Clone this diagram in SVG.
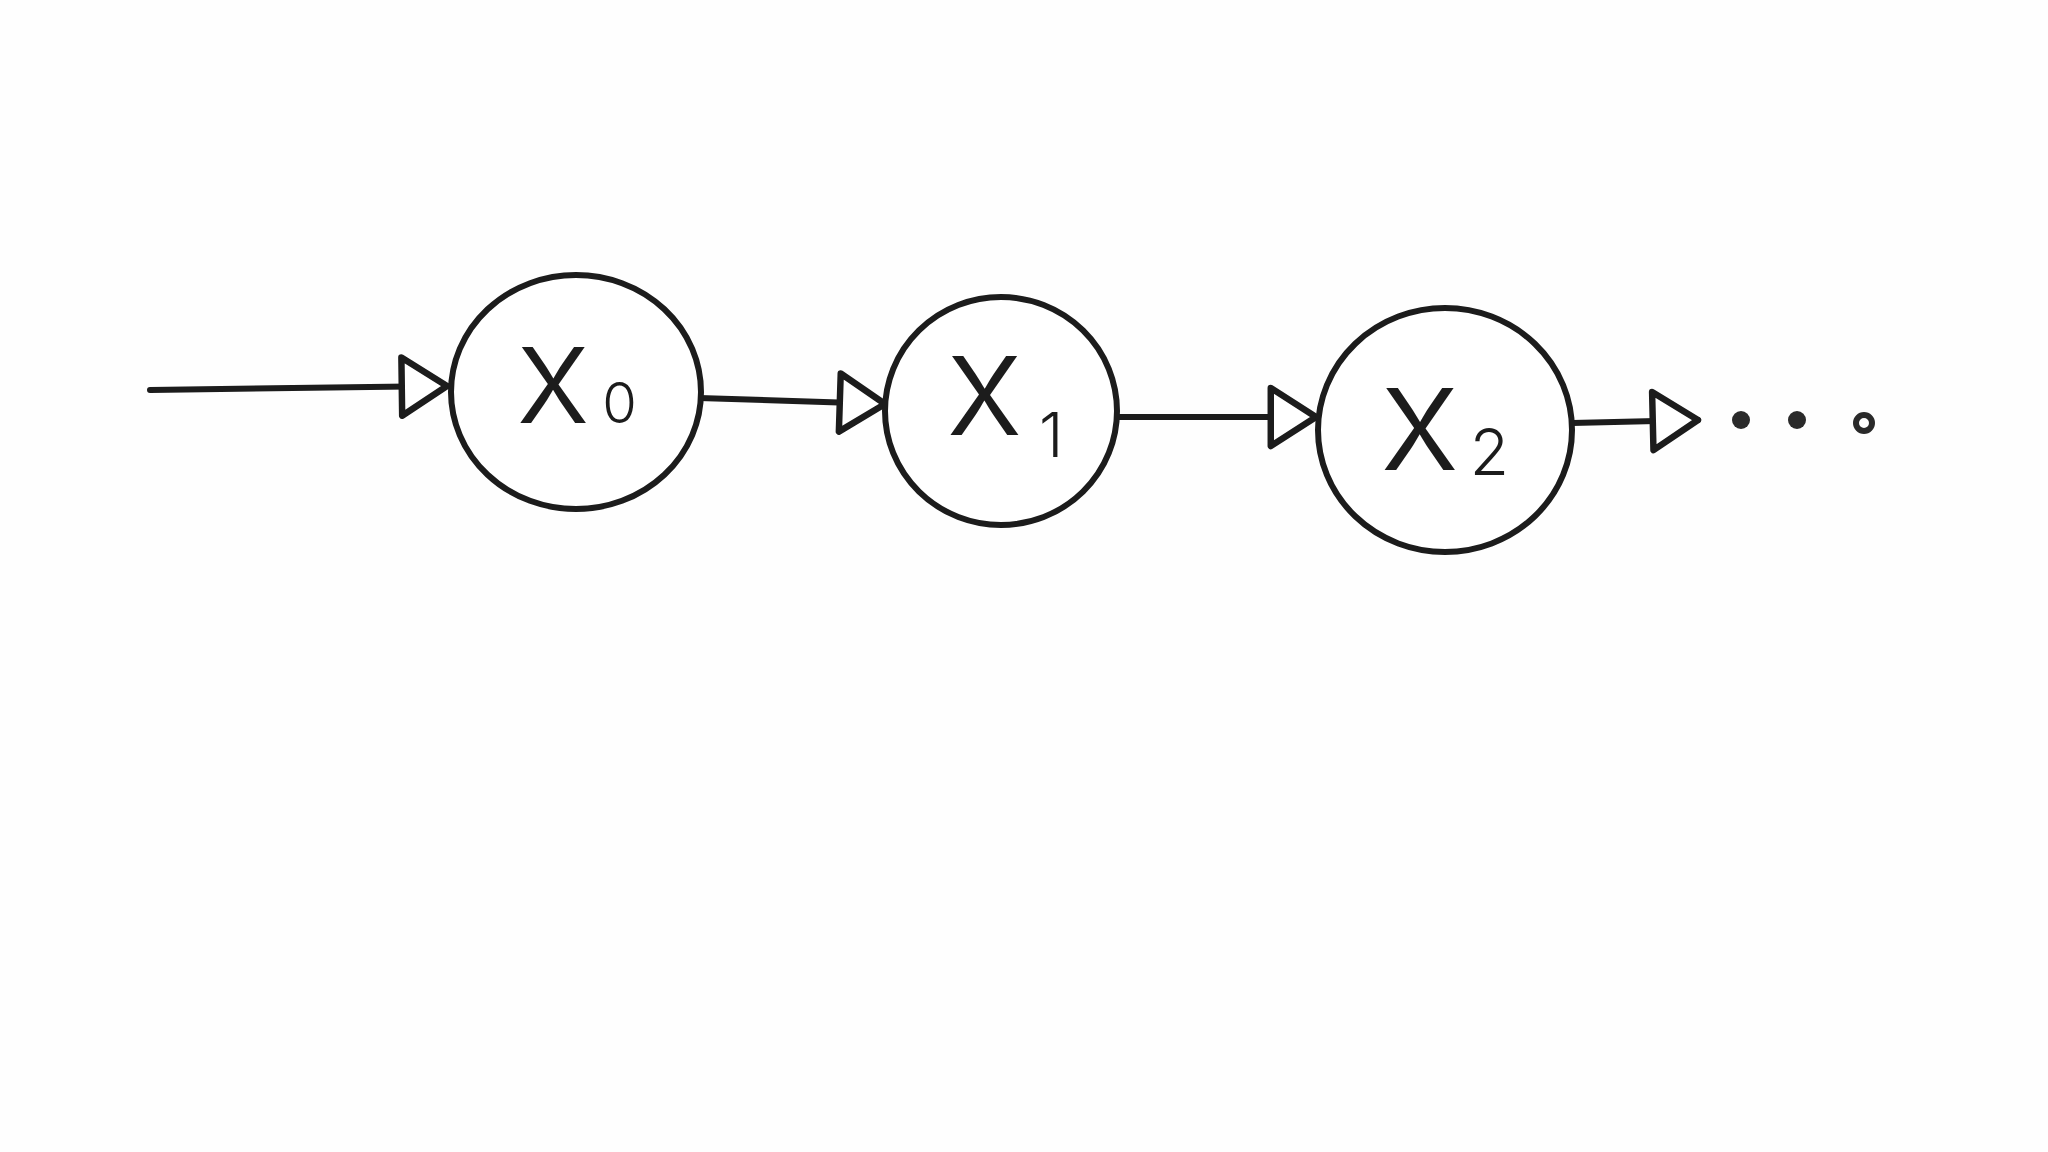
<svg xmlns="http://www.w3.org/2000/svg" width="2048" height="1152" viewBox="0 0 2048 1152">
<style>
.node{fill:#fff;stroke:#1c1c1c;stroke-width:6}
.edge{fill:none;stroke:#1c1c1c;stroke-width:6;stroke-linecap:round}
.lbl{font-family:Inter,Lato,"Open Sans","Liberation Sans",sans-serif;font-weight:300;fill:#1c1c1c}
.dot{fill:#2a2a2a}
</style>
<defs>
<marker id="tri" markerUnits="userSpaceOnUse" markerWidth="60" markerHeight="70" viewBox="-5 -5 55 65" refX="44" refY="27" orient="auto">
<path d="M2,0 L44,27 L2,54 Z" fill="#fff" stroke="#1c1c1c" stroke-width="6" stroke-linejoin="round"/>
</marker>
</defs>
<rect width="2048" height="1152" fill="#fefefe"/>
<g id="connectors">
<path class="edge" d="M150,390 L447,386" marker-end="url(#tri)"/>
<path class="edge" d="M699,398 L885,404" marker-end="url(#tri)"/>
<path class="edge" d="M1117,417 L1316,417" marker-end="url(#tri)"/>
<path class="edge" d="M1572,423 L1698,420" marker-end="url(#tri)"/>
</g>
<g id="node-x0">
<ellipse class="node" cx="576" cy="392" rx="125" ry="117"/>
<text class="lbl" x="516" y="423" font-size="140">x<tspan font-size="56" dx="12">0</tspan></text>
</g>
<g id="node-x1">
<ellipse class="node" cx="1001" cy="411" rx="116" ry="114"/>
<text class="lbl" x="946" y="435" font-size="145">x<tspan font-size="62" dx="16" dy="22">1</tspan></text>
</g>
<g id="node-x2">
<ellipse class="node" cx="1445" cy="430" rx="127" ry="122"/>
<text class="lbl" x="1380" y="470" font-size="150">x<tspan font-size="64" dx="10" dy="5">2</tspan></text>
</g>
<g id="ellipsis">
<circle class="dot" cx="1741" cy="420" r="9"/>
<circle class="dot" cx="1797" cy="420" r="9"/>
<circle cx="1864" cy="423" r="8" fill="#fff" stroke="#2a2a2a" stroke-width="6"/>
</g>
</svg>
